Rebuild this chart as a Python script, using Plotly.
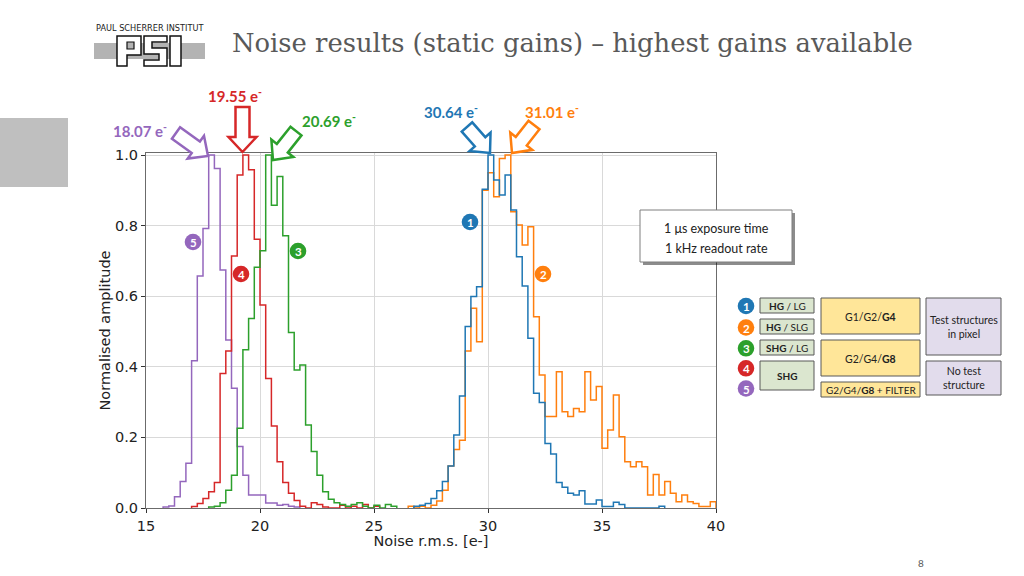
import math
import plotly.graph_objects as go

# ---------------- data ----------------
BIN_W = 0.25

purple_start = 15.75   # series 5: SHG + filter  (18.07 e-)
purple_vals = [0.003, 0.006, 0.032, 0.075, 0.127, 0.417, 0.657, 0.792, 1.0, 0.962,
               0.674, 0.476, 0.339, 0.174, 0.093, 0.037, 0.037, 0.037, 0.014, 0.014,
               0.008, 0.010, 0.005, 0.003]

red_start = 17.0       # series 4: SHG (19.55 e-)
red_vals = [0.004, 0.013, 0.027, 0.046, 0.072, 0.381, 0.445, 0.714, 0.943, 1.0,
            0.958, 0.761, 0.575, 0.367, 0.232, 0.131, 0.072, 0.042, 0.021, 0.005,
            0.0, 0.015, 0.010, 0.003, 0.0, 0.0, 0.008, 0.0, 0.005, 0.0,
            0.010, 0.0, 0.005]

green_start = 17.75    # series 3: SHG / LG (20.69 e-)
green_vals = [0.003, 0.005, 0.015, 0.050, 0.093, 0.226, 0.448, 0.537, 0.682, 0.729,
              1.0, 0.858, 0.939, 0.771, 0.497, 0.391, 0.405, 0.235, 0.160, 0.093,
              0.046, 0.025, 0.015, 0.010, 0.005, 0.010, 0.015, 0.005, 0.0, 0.008,
              0.0, 0.010, 0.005]

blue_start = 26.75     # series 1: HG / LG (30.64 e-)
blue_vals = [0.005, 0.008, 0.013, 0.027, 0.049, 0.075, 0.119, 0.207, 0.317, 0.514,
             0.599, 0.627, 0.903, 1.0, 0.929, 0.887, 0.943, 0.844, 0.712, 0.629,
             0.481, 0.325, 0.299, 0.183, 0.153, 0.072, 0.059, 0.042, 0.037, 0.049,
             0.011, 0.011, 0.023, 0.004, 0.004, 0.016, 0.010, 0.0, 0.0, 0.0,
             0.0, 0.0, 0.0, 0.005]

orange_start = 26.5    # series 2: HG / SLG (31.01 e-)
orange_vals = [0.005, 0.0, 0.005, 0.0, 0.008, 0.020, 0.050, 0.119, 0.166, 0.192,
               0.445, 0.566, 0.471, 0.900, 0.950, 0.882, 0.990, 1.0, 0.839, 0.802,
               0.745, 0.797, 0.542, 0.377, 0.259, 0.259, 0.386, 0.273, 0.259, 0.282,
               0.273, 0.386, 0.306, 0.344, 0.169, 0.221, 0.320, 0.202, 0.131, 0.117,
               0.131, 0.117, 0.037, 0.095, 0.037, 0.075, 0.042, 0.018, 0.037, 0.018,
               0.013, 0.004, 0.004, 0.018]

x_ticks = [15, 20, 25, 30, 35, 40]
y_ticks = [0.0, 0.2, 0.4, 0.6, 0.8, 1.0]

peak_labels = ["30.64", "31.01", "20.69", "19.55", "18.07"]
gain_labels = ["<b>HG</b> / LG", "<b>HG</b> / SLG", "<b>SHG</b> / LG", "<b>SHG</b>"]
G_labels = ["G1/G2/<b>G4</b>", "G2/G4/<b>G8</b>", "G2/G4/<b>G8</b> + FILTER"]
struct_labels = ["Test structures<br>in pixel", "No test<br>structure"]

C_BLUE, C_ORANGE, C_GREEN, C_RED, C_PURPLE = "#1f77b4", "#ff7f0e", "#2ca02c", "#d62728", "#9467bd"

# ---------------- geometry helpers (pixel -> paper) ----------------
W, H = 1024, 576
PL, PT, PW, PH = 146, 153, 570, 355


def px(x):
    return (x - PL) / PW


def py(y):
    return (PT + PH - y) / PH


def step_xy(start, vals):
    edges = [start + i * BIN_W for i in range(len(vals) + 1)]
    return [edges[0]] + edges, [0] + list(vals) + [0]


fig = go.Figure()
series = [
    (purple_start, purple_vals, C_PURPLE),
    (red_start, red_vals, C_RED),
    (green_start, green_vals, C_GREEN),
    (orange_start, orange_vals, C_ORANGE),
    (blue_start, blue_vals, C_BLUE),
]
for s, v, c in series:
    xs, ys = step_xy(s, v)
    fig.add_trace(go.Scatter(x=xs, y=ys, mode="lines", line=dict(color=c, width=1.5, shape="hv"),
                             showlegend=False, hoverinfo="skip"))

shapes = []
ann = []


def rect(x0, y0, x1, y1, fill, line="#595959", lw=1):
    shapes.append(dict(type="rect", xref="paper", yref="paper", x0=px(x0), x1=px(x1),
                       y0=py(y1), y1=py(y0), fillcolor=fill, line=dict(color=line, width=lw),
                       layer="above"))


def text(x, y, s, size=11, color="#222", family="Lato", xanchor="center", yanchor="middle"):
    ann.append(dict(xref="paper", yref="paper", x=px(x), y=py(y), text=s, showarrow=False,
                    font=dict(size=size, color=color, family=family), xanchor=xanchor,
                    yanchor=yanchor))


def circ(x, y, r, color, label):
    shapes.append(dict(type="circle", xref="paper", yref="paper", x0=px(x - r), x1=px(x + r),
                       y0=py(y + r), y1=py(y - r), fillcolor=color, line=dict(width=0),
                       layer="above"))
    text(x, y + 0.5, "<b>%s</b>" % label, size=11.5, color="white", family="Lato")


def arrow(tip, tail, color, sw=7, hw=14, hl=15):
    tx, ty = tip
    sx, sy = tail
    dx, dy = tx - sx, ty - sy
    L = math.hypot(dx, dy)
    ux, uy = dx / L, dy / L
    nx, ny = -uy, ux
    bx, by = tx - ux * hl, ty - uy * hl
    pts = [(sx + nx * sw, sy + ny * sw), (bx + nx * sw, by + ny * sw), (bx + nx * hw, by + ny * hw),
           (tx, ty), (bx - nx * hw, by - ny * hw), (bx - nx * sw, by - ny * sw),
           (sx - nx * sw, sy - ny * sw)]
    path = "M " + " L ".join("%.5f,%.5f" % (px(a), py(b)) for a, b in pts) + " Z"
    shapes.append(dict(type="path", xref="paper", yref="paper", path=path, fillcolor="white",
                       line=dict(color=color, width=2.5), layer="above"))


# left grey block
rect(0, 118, 68, 187, "#bfbfbf", line="#bfbfbf", lw=0)

# PSI logo
shapes.append(dict(type="rect", xref="paper", yref="paper", x0=px(94), x1=px(205), y0=py(59), y1=py(43),
                   fillcolor="#b3b3b3", line=dict(width=0), layer="above"))
logo_paths = [
    [(117, 36), (141, 36), (141, 55), (127, 55), (127, 66), (117, 66)],
    [(144, 36), (167, 36), (167, 42), (152, 42), (152, 48), (167, 48), (167, 66), (144, 66), (144, 60),
     (159, 60), (159, 54), (144, 54)],
    [(170, 36), (181, 36), (181, 66), (170, 66)],
]
for pts in logo_paths:
    path = "M " + " L ".join("%.5f,%.5f" % (px(a), py(b)) for a, b in pts) + " Z"
    shapes.append(dict(type="path", xref="paper", yref="paper", path=path, fillcolor="white",
                       line=dict(color="#111", width=1.5), layer="above"))
shapes.append(dict(type="rect", xref="paper", yref="paper", x0=px(127), x1=px(134), y0=py(49), y1=py(42),
                   fillcolor="#b3b3b3", line=dict(color="#111", width=1.2), layer="above"))
text(149.5, 27.5, "PAUL SCHERRER INSTITUT", size=8.2, color="#222", family="DejaVu Sans")

# title
text(572, 43, "Noise results (static gains) \u2013 highest gains available", size=25.8,
     color="#595959", family="DejaVu Serif")

# arrows + peak labels
arrow((490, 153), (467, 127), C_BLUE)
arrow((512, 153), (534, 125), C_ORANGE)
arrow((273, 160), (296, 131), C_GREEN)
arrow((242.5, 152), (242.5, 107), C_RED)
arrow((208, 156), (176, 133), C_PURPLE)
lab_pos = [(451, 112), (552, 112), (329, 121), (235, 95), (140, 130)]
for (lx, ly), s, c in zip(lab_pos, peak_labels, [C_BLUE, C_ORANGE, C_GREEN, C_RED, C_PURPLE]):
    text(lx, ly, "<b>%s e<sup>-</sup></b>" % s, size=15, color=c)

# numbered circles in plot
for (cx, cy), c, n in zip([(470, 222), (543, 274), (298, 251), (241, 274), (193, 242)],
                          [C_BLUE, C_ORANGE, C_GREEN, C_RED, C_PURPLE], "12345"):
    circ(cx, cy, 8.3, c, n)

# info box with shadow
shapes.append(dict(type="rect", xref="paper", yref="paper", x0=px(643), x1=px(795), y0=py(265), y1=py(213),
                   fillcolor="rgba(0,0,0,0.45)", line=dict(width=0), layer="above"))
rect(640, 210, 792, 262, "white", line="#7f7f7f", lw=1)
text(716, 228, "1 \u03bcs exposure time", size=12.5)
text(716, 248, "1 kHz readout rate", size=12.5)

# legend table
for (cy, c, n) in zip([306, 327.5, 348.3, 368.3, 388.5], [C_BLUE, C_ORANGE, C_GREEN, C_RED, C_PURPLE], "12345"):
    circ(746, cy, 8.3, c, n)
GREEN_F, YEL_F, LAV_F = "#dbe6cf", "#ffe699", "#e2dcec"
for (y0, y1), s in zip([(298, 313), (319, 334), (340, 355), (361, 390)], gain_labels):
    rect(760, y0, 814, y1, GREEN_F)
    text(787, (y0 + y1) / 2, s, size=10)
for (y0, y1), s in zip([(298, 334), (340, 376), (382, 397)], G_labels):
    rect(821, y0, 920, y1, YEL_F)
    text(870.5, (y0 + y1) / 2 + 0.5, s, size=10.5 if y1 - y0 > 20 else 10)
for (y0, y1), s in zip([(298, 355), (361, 395)], struct_labels):
    rect(926, y0, 1001, y1, LAV_F)
    text(963.5, (y0 + y1) / 2, s, size=10.5)

# page number
text(921, 563, "8", size=10, color="#595959")

axis_common = dict(showgrid=True, gridcolor="#d9d9d9", gridwidth=1, zeroline=False,
                   showline=True, mirror=True, linecolor="#6b6b6b", linewidth=1.2,
                   ticks="outside", ticklen=4, tickcolor="#333",
                   tickfont=dict(family="DejaVu Sans", size=14.5, color="#222"))

fig.update_layout(
    width=W, height=H, autosize=False,
    margin=dict(l=PL, r=W - PL - PW, t=PT, b=H - PT - PH, pad=0),
    paper_bgcolor="white", plot_bgcolor="white",
    shapes=shapes, annotations=ann, showlegend=False,
    xaxis=dict(range=[15, 40], tickvals=x_ticks, ticktext=[str(v) for v in x_ticks],
               title=dict(text="Noise r.m.s. [e-]", font=dict(family="DejaVu Sans", size=14.5, color="#222"),
                          standoff=0),
               **axis_common),
    yaxis=dict(range=[0, PH / 353.0], tickvals=y_ticks, ticktext=["%.1f" % v for v in y_ticks],
               title=dict(text="Normalised amplitude", font=dict(family="DejaVu Sans", size=14.5, color="#222"),
                          standoff=0),
               **axis_common),
)

fig.write_html("out.html", config={"displayModeBar": False},
               post_script="document.body.style.margin='0px';document.body.style.overflow='hidden';")
